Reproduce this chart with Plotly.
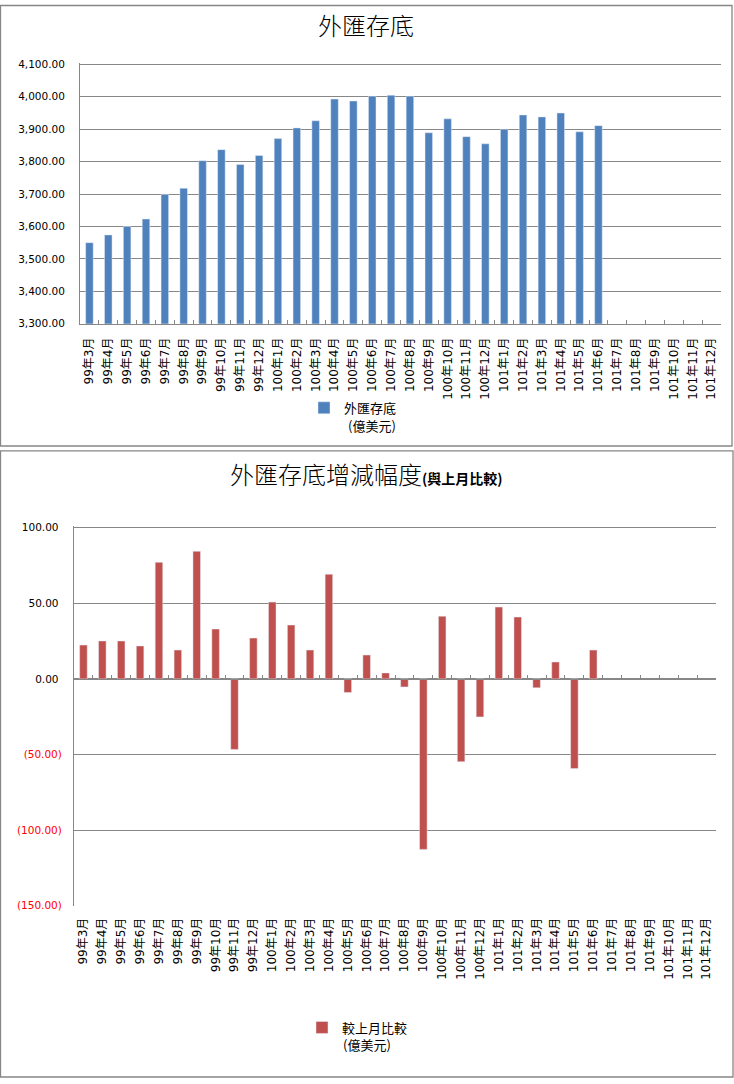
import plotly.graph_objects as go

# ---------------- data ----------------
categories = ["99年3月", "99年4月", "99年5月", "99年6月", "99年7月", "99年8月", "99年9月",
              "99年10月", "99年11月", "99年12月", "100年1月", "100年2月", "100年3月",
              "100年4月", "100年5月", "100年6月", "100年7月", "100年8月", "100年9月",
              "100年10月", "100年11月", "100年12月", "101年1月", "101年2月", "101年3月",
              "101年4月", "101年5月", "101年6月", "101年7月", "101年8月", "101年9月",
              "101年10月", "101年11月", "101年12月"]

reserves = [3550, 3574, 3600, 3623, 3699, 3718, 3803, 3837, 3791, 3819,
            3871, 3904, 3926, 3993, 3987, 4002, 4005, 4002, 3889, 3932,
            3877, 3855, 3900, 3944, 3938, 3950, 3892, 3911,
            None, None, None, None, None, None]

changes = [22.4, 25.1, 25.1, 21.8, 77.1, 19.1, 84.4, 33.0, -46.6, 27.0,
           50.8, 35.6, 19.1, 69.2, -9.0, 15.8, 4.0, -5.3, -112.7, 41.5,
           -54.7, -25.1, 47.5, 40.9, -5.9, 11.2, -59.3, 19.1,
           None, None, None, None, None, None]

top_title = "外匯存底"
bottom_title_main = "外匯存底增減幅度"
bottom_title_sub = "(與上月比較)"
top_series = "外匯存底"
bottom_series = "較上月比較"
unit_label = "(億美元)"

top_ticks = [3300, 3400, 3500, 3600, 3700, 3800, 3900, 4000, 4100]
bottom_ticks = [-150, -100, -50, 0, 50, 100]

# ---------------- styling ----------------
W, H = 734, 1084
BLUE = "#4F81BD"
RED = "#C0504D"
GRID = "#878787"
NUM_FONT = "DejaVu Sans, Noto Sans CJK TC"
CJK_FONT = "Noto Sans CJK TC, Noto Sans CJK JP"


def px_x(x):
    return x / W


def px_y(y):
    return 1 - y / H


top_xdom = [px_x(80), px_x(721)]
top_ydom = [px_y(322), px_y(58.5)]
bot_xdom = [px_x(74), px_x(716)]
bot_ydom = [px_y(910.5), px_y(526.5)]

top_range = [top_ticks[0], top_ticks[-1] + 4.5]
bot_range = [bottom_ticks[0] - 0.3, bottom_ticks[-1] + 1.0]
zero_pos = bot_ydom[0] + (0 - bot_range[0]) / (bot_range[1] - bot_range[0]) * (bot_ydom[1] - bot_ydom[0])


def fmt_tick(v):
    if v < 0:
        return "<span style='color:#FF0000'>(%s)</span>" % format(-v, ",.2f")
    return format(v, ",.2f") + "\u00a0"


fig = go.Figure()

fig.add_trace(go.Bar(
    x=categories, y=reserves, name=top_series, marker_color=BLUE,
    xaxis="x", yaxis="y", legend="legend",
))
fig.add_trace(go.Bar(
    x=categories, y=changes, name=bottom_series, marker_color=RED,
    xaxis="x2", yaxis="y2", legend="legend2",
))
# helper (invisible) trace for the category axis drawn at zero level
fig.add_trace(go.Scatter(
    x=categories, y=[0] * len(categories), mode="markers",
    marker=dict(opacity=0), hoverinfo="skip", showlegend=False,
    xaxis="x3", yaxis="y2",
))

xcommon = dict(
    type="category", categoryorder="array", categoryarray=categories,
    range=[-0.5, len(categories) - 0.5], tickangle=-90,
    tickfont=dict(family=NUM_FONT, size=12, color="#000"),
    showgrid=False, zeroline=False, fixedrange=True,
)

fig.update_layout(
    width=W, height=H,
    margin=dict(l=0, r=0, t=0, b=0),
    paper_bgcolor="white", plot_bgcolor="white",
    bargap=0.6,
    showlegend=True,
    xaxis=dict(
        **xcommon, domain=top_xdom, anchor="y",
        showline=True, linecolor=GRID, linewidth=1,
        ticks="inside", tickson="boundaries", ticklen=4, tickcolor=GRID,
        ticklabelstandoff=8,
    ),
    yaxis=dict(
        domain=top_ydom, anchor="x", range=top_range,
        tickmode="array", tickvals=top_ticks,
        tickformat=",.2f", showgrid=True, gridcolor=GRID, gridwidth=1,
        showline=True, linecolor=GRID, linewidth=1, zeroline=False,
        ticks="", ticklabelstandoff=12, fixedrange=True,
        tickfont=dict(family=NUM_FONT, size=10.5, color="#000"),
    ),
    xaxis2=dict(
        **xcommon, domain=bot_xdom, anchor="y2",
        showline=False, ticks="", ticklabelstandoff=8,
    ),
    yaxis2=dict(
        domain=bot_ydom, anchor="x2", range=bot_range,
        tickmode="array", tickvals=bottom_ticks,
        ticktext=[fmt_tick(v) for v in bottom_ticks],
        showgrid=True, gridcolor=GRID, gridwidth=1,
        showline=True, linecolor=GRID, linewidth=1, zeroline=False,
        ticks="", ticklabelstandoff=9, fixedrange=True,
        tickfont=dict(family=NUM_FONT, size=10.5, color="#000"),
    ),
    xaxis3=dict(
        type="category", categoryorder="array", categoryarray=categories,
        range=[-0.5, len(categories) - 0.5],
        domain=bot_xdom, overlaying="x2", anchor="free", position=zero_pos,
        showline=True, linecolor=GRID, linewidth=1,
        ticks="inside", tickson="boundaries", ticklen=4, tickcolor=GRID,
        showticklabels=False, showgrid=False, zeroline=False, fixedrange=True,
    ),
    legend=dict(
        x=px_x(304), y=px_y(407), xanchor="left", yanchor="middle",
        font=dict(family=CJK_FONT, size=13, color="#000"),
        bgcolor="rgba(0,0,0,0)", itemwidth=30,
    ),
    legend2=dict(
        x=px_x(302), y=px_y(1033), xanchor="left", yanchor="middle",
        font=dict(family=CJK_FONT, size=13, color="#000"),
        bgcolor="rgba(0,0,0,0)", itemwidth=30,
    ),
    annotations=[
        dict(text=top_title, x=px_x(366), y=px_y(20), xref="paper", yref="paper",
             showarrow=False, xanchor="center", yanchor="middle",
             font=dict(family=CJK_FONT, size=24, color="#000", weight=300)),
        dict(text=bottom_title_main + "<b><span style='font-size:14px'>" + bottom_title_sub + "</span></b>",
             x=px_x(366), y=px_y(473), xref="paper", yref="paper",
             showarrow=False, xanchor="center", yanchor="middle",
             font=dict(family=CJK_FONT, size=24, color="#000", weight=300)),
        dict(text=unit_label, x=px_x(372), y=px_y(425), xref="paper", yref="paper",
             showarrow=False, xanchor="center", yanchor="middle",
             font=dict(family=CJK_FONT, size=13, color="#000")),
        dict(text=unit_label, x=px_x(367), y=px_y(1050), xref="paper", yref="paper",
             showarrow=False, xanchor="center", yanchor="middle",
             font=dict(family=CJK_FONT, size=13, color="#000")),
    ],
    shapes=[
        dict(type="rect", xref="paper", yref="paper",
             x0=px_x(0.5), x1=px_x(732), y0=px_y(445.5), y1=px_y(0.5),
             line=dict(color="#868686", width=1.3), fillcolor="rgba(0,0,0,0)"),
        dict(type="rect", xref="paper", yref="paper",
             x0=px_x(0.5), x1=px_x(733), y0=px_y(1083), y1=px_y(450.5),
             line=dict(color="#868686", width=1.3), fillcolor="rgba(0,0,0,0)"),
    ],
)

fig.write_html(
    "out.html",
    config={"displayModeBar": False},
    post_script="document.body.style.margin='0px';document.body.style.overflow='hidden';",
)
